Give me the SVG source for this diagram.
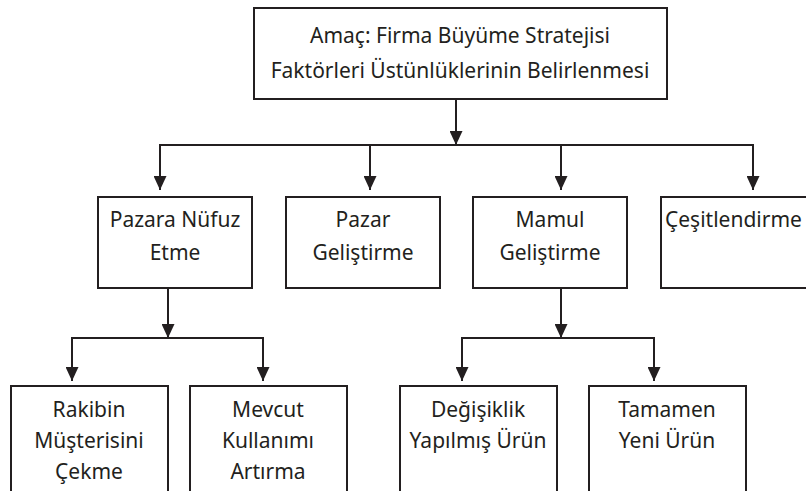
<svg xmlns="http://www.w3.org/2000/svg" width="806" height="491" viewBox="0 0 806 491">
  <style>
    .box { fill: #ffffff; stroke: #231f20; stroke-width: 2; }
    .lbl { font-family: "Noto Sans", "Liberation Sans", sans-serif; font-size: 21px; fill: #231f20; text-anchor: middle; }
    .conn { fill: none; stroke: #231f20; stroke-width: 2; }
  </style>
  <defs>
    <marker id="arr" markerUnits="userSpaceOnUse" viewBox="0 0 14 13" markerWidth="14" markerHeight="13" refX="14" refY="6.5" orient="auto">
      <path d="M0,0 L14,6.5 L0,13 z" fill="#231f20"/>
    </marker>
  </defs>
  <rect width="806" height="491" fill="#ffffff"/>

  <g id="connectors">
    <line class="conn" x1="456" y1="99" x2="456" y2="145" marker-end="url(#arr)"/>
    <line class="conn" x1="159" y1="145" x2="754" y2="145"/>
    <line class="conn" x1="160" y1="145" x2="160" y2="190" marker-end="url(#arr)"/>
    <line class="conn" x1="370" y1="145" x2="370" y2="190" marker-end="url(#arr)"/>
    <line class="conn" x1="561" y1="145" x2="561" y2="190" marker-end="url(#arr)"/>
    <line class="conn" x1="753" y1="145" x2="753" y2="190" marker-end="url(#arr)"/>

    <line class="conn" x1="168" y1="288" x2="168" y2="338" marker-end="url(#arr)"/>
    <line class="conn" x1="71" y1="338" x2="264" y2="338"/>
    <line class="conn" x1="72" y1="338" x2="72" y2="381" marker-end="url(#arr)"/>
    <line class="conn" x1="263" y1="338" x2="263" y2="381" marker-end="url(#arr)"/>

    <line class="conn" x1="561" y1="288" x2="561" y2="338" marker-end="url(#arr)"/>
    <line class="conn" x1="461" y1="338" x2="655" y2="338"/>
    <line class="conn" x1="462" y1="338" x2="462" y2="381" marker-end="url(#arr)"/>
    <line class="conn" x1="654" y1="338" x2="654" y2="381" marker-end="url(#arr)"/>
  </g>

  <g id="goal">
    <rect class="box" x="254" y="8" width="413" height="91"/>
    <text class="lbl" x="460" y="43">Amaç: Firma Büyüme Stratejisi</text>
    <text class="lbl" x="460" y="78">Faktörleri Üstünlüklerinin Belirlenmesi</text>
  </g>

  <g id="pazara-nufuz">
    <rect class="box" x="98" y="197" width="154" height="91"/>
    <text class="lbl" x="175" y="227">Pazara Nüfuz</text>
    <text class="lbl" x="175" y="260">Etme</text>
  </g>

  <g id="pazar-gelistirme">
    <rect class="box" x="286" y="197" width="154" height="91"/>
    <text class="lbl" x="363" y="227">Pazar</text>
    <text class="lbl" x="363" y="260">Geliştirme</text>
  </g>

  <g id="mamul-gelistirme">
    <rect class="box" x="473" y="197" width="154" height="91"/>
    <text class="lbl" x="550" y="227">Mamul</text>
    <text class="lbl" x="550" y="260">Geliştirme</text>
  </g>

  <g id="cesitlendirme">
    <rect class="box" x="661" y="197" width="160" height="91"/>
    <text class="lbl" x="665" y="227" style="text-anchor:start">Çeşitlendirme</text>
  </g>

  <g id="rakibin">
    <rect class="box" x="11" y="386" width="157" height="120"/>
    <text class="lbl" x="89" y="417">Rakibin</text>
    <text class="lbl" x="89" y="448">Müşterisini</text>
    <text class="lbl" x="89" y="479">Çekme</text>
  </g>

  <g id="mevcut">
    <rect class="box" x="190" y="386" width="157" height="120"/>
    <text class="lbl" x="268" y="417">Mevcut</text>
    <text class="lbl" x="268" y="448">Kullanımı</text>
    <text class="lbl" x="268" y="479">Artırma</text>
  </g>

  <g id="degisiklik">
    <rect class="box" x="400" y="386" width="157" height="120"/>
    <text class="lbl" x="478" y="417">Değişiklik</text>
    <text class="lbl" x="478" y="448">Yapılmış Ürün</text>
  </g>

  <g id="tamamen">
    <rect class="box" x="589" y="386" width="157" height="120"/>
    <text class="lbl" x="667" y="417">Tamamen</text>
    <text class="lbl" x="667" y="448">Yeni Ürün</text>
  </g>
</svg>
